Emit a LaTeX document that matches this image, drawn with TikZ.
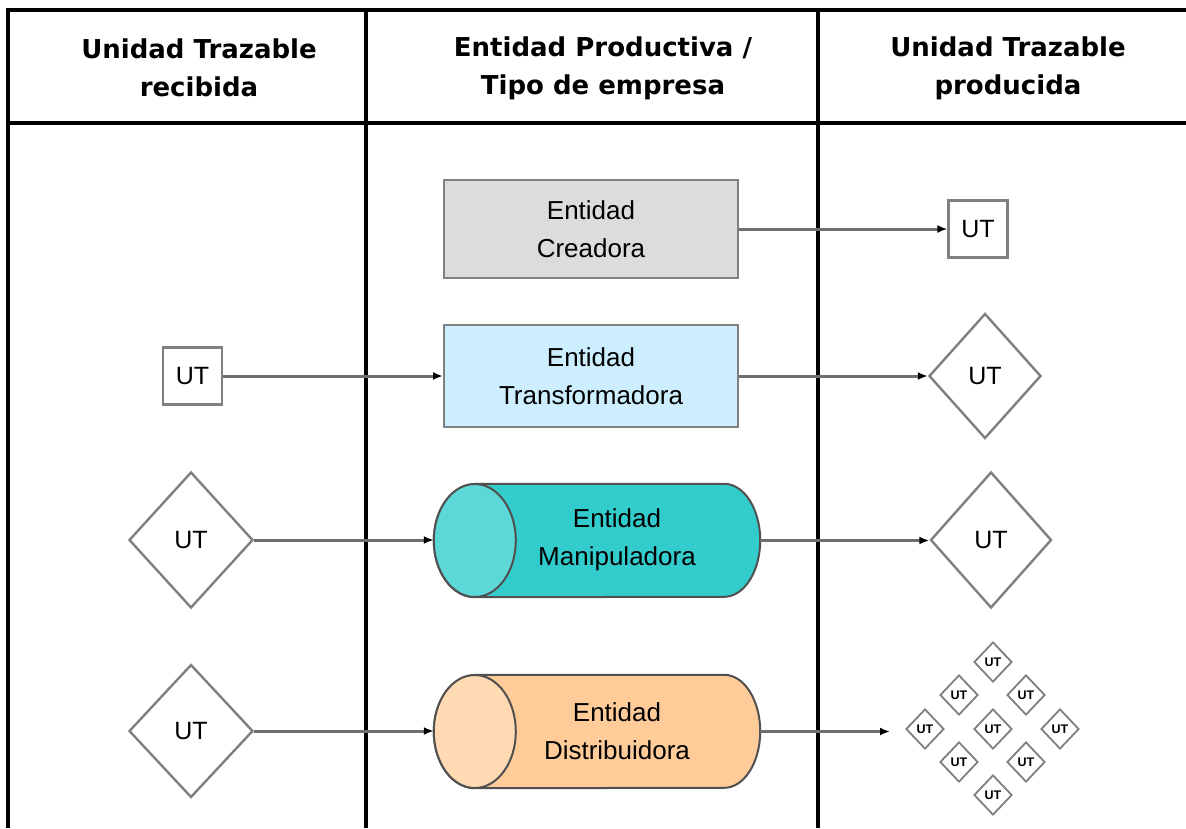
\documentclass[tikz,border=0pt]{standalone}
\usepackage{fontspec}
\setmainfont{Liberation Sans}
\newfontfamily\headfont{DejaVu Sans}
\usetikzlibrary{shapes.geometric,arrows.meta}

\definecolor{edgegray}{HTML}{808080}
\definecolor{cyledge}{HTML}{505050}
\definecolor{creafill}{HTML}{DCDCDC}
\definecolor{transfill}{HTML}{CCEEFF}
\definecolor{manibody}{HTML}{33CCCC}
\definecolor{manicap}{HTML}{5CD8D8}
\definecolor{distbody}{HTML}{FFCC99}
\definecolor{distcap}{HTML}{FFDAB2}
\definecolor{flowgray}{HTML}{6E6E6E}

\begin{document}
\begin{tikzpicture}[x=1pt,y=-1pt,
  gridline/.style={line width=4pt,black},
  hdr/.style={font=\headfont\bfseries\fontsize{26}{38}\selectfont,align=center,inner sep=0pt},
  bodytext/.style={font=\fontsize{26}{38}\selectfont,align=center,inner sep=0pt},
  entbox/.style={draw=edgegray,line width=2pt,minimum width=294pt,inner sep=0pt,
    font=\fontsize{26}{38}\selectfont,align=center},
  cylnode/.style={minimum width=326pt,minimum height=113pt,inner sep=0pt},
  utbox/.style={draw=edgegray,line width=2.2pt,fill=white,minimum width=59pt,
    minimum height=57pt,inner sep=0pt,font=\fontsize{25}{30}\selectfont},
  utdia/.style={diamond,draw=edgegray,line width=2.4pt,fill=white,inner sep=0pt,
    font=\fontsize{25}{30}\selectfont},
  minidia/.style={diamond,draw=edgegray,line width=1.8pt,fill=white,inner sep=0pt,
    minimum width=38pt,minimum height=40pt,font=\bfseries\fontsize{12.5}{13}\selectfont},
  flow/.style={draw=flowgray,line width=3pt,
    -{Latex[length=10pt,width=8pt,black]}}
]
\useasboundingbox (0,0) rectangle (1186,828);
\fill[white] (0,0) rectangle (1186,828);

% table frame
\draw[gridline] (8,10) -- (1186,10);
\draw[gridline] (8,123) -- (1186,123);
\draw[gridline] (8,8) -- (8,828);
\draw[gridline] (366,8) -- (366,828);
\draw[gridline] (818,8) -- (818,828);

% column headers
\node[hdr] (h1) at (199,68) {Unidad Trazable\\recibida};
\node[hdr] (h2) at (603,68) {Entidad Productiva /\\Tipo de empresa};
\node[hdr] (h3) at (1008,68) {Unidad Trazable\\producida};

% row 1: creadora
\node[entbox,fill=creafill,minimum height=98pt] (crea) at (591,229) {Entidad\\Creadora};
\node[utbox] (utC) at (978,229) {UT};
\draw[flow] (crea.east) -- (crea.east -| utC.west);

% row 2: transformadora
\node[entbox,fill=transfill,minimum height=102pt] (trans) at (591,376) {Entidad\\Transformadora};
\node[utbox] (utTin) at (192.5,376) {UT};
\node[utdia,minimum width=112pt,minimum height=125pt] (utTout) at (985,376) {UT};
\draw[flow] (utTin.east) -- (utTin.east -| trans.west);
\draw[flow] (trans.east) -- (trans.east -| utTout.west);

% row 3: manipuladora (horizontal cylinder)
\node[cylnode] (mani) at (597,540.5) {};
\path[fill=manibody,draw=cyledge,line width=2pt]
  ([xshift=41pt]mani.north west) -- ([xshift=-36pt]mani.north east)
  arc[start angle=-90,end angle=90,x radius=36,y radius=56.5]
  -- ([xshift=41pt]mani.south west)
  arc[start angle=90,end angle=270,x radius=41,y radius=56.5] -- cycle;
\path[fill=manicap,draw=cyledge,line width=2pt]
  ([xshift=41pt]mani.west) ellipse[x radius=41,y radius=56.5];
\node[bodytext] (maniT) at (617,540) {Entidad\\Manipuladora};
\node[utdia,minimum width=124pt,minimum height=136pt] (utMin) at (191,540) {UT};
\node[utdia,minimum width=121pt,minimum height=136pt] (utMout) at (991,540) {UT};
\draw[flow] (utMin.east) -- (utMin.east -| mani.west);
\draw[flow] (mani.east) -- (mani.east -| utMout.west);

% row 4: distribuidora (horizontal cylinder)
\node[cylnode] (dist) at (597,731.5) {};
\path[fill=distbody,draw=cyledge,line width=2pt]
  ([xshift=41pt]dist.north west) -- ([xshift=-36pt]dist.north east)
  arc[start angle=-90,end angle=90,x radius=36,y radius=56.5]
  -- ([xshift=41pt]dist.south west)
  arc[start angle=90,end angle=270,x radius=41,y radius=56.5] -- cycle;
\path[fill=distcap,draw=cyledge,line width=2pt]
  ([xshift=41pt]dist.west) ellipse[x radius=41,y radius=56.5];
\node[bodytext] (distT) at (617,731) {Entidad\\Distribuidora};
\node[utdia,minimum width=124pt,minimum height=133pt] (utDin) at (191,731) {UT};
\draw[flow] (utDin.east) -- (utDin.east -| dist.west);

% many small traceable units
\node[minidia] (s1) at (993,662) {UT};
\node[minidia] (s2) at (959,695) {UT};
\node[minidia] (s3) at (1026,695) {UT};
\node[minidia] (s4) at (925,729) {UT};
\node[minidia] (s5) at (993,729) {UT};
\node[minidia] (s6) at (1060,729) {UT};
\node[minidia] (s7) at (959,762) {UT};
\node[minidia] (s8) at (1026,762) {UT};
\node[minidia] (s9) at (993,795) {UT};
\coordinate (distOut) at (890,731.5);
\draw[flow] (dist.east) -- (distOut);
\end{tikzpicture}
\end{document}
